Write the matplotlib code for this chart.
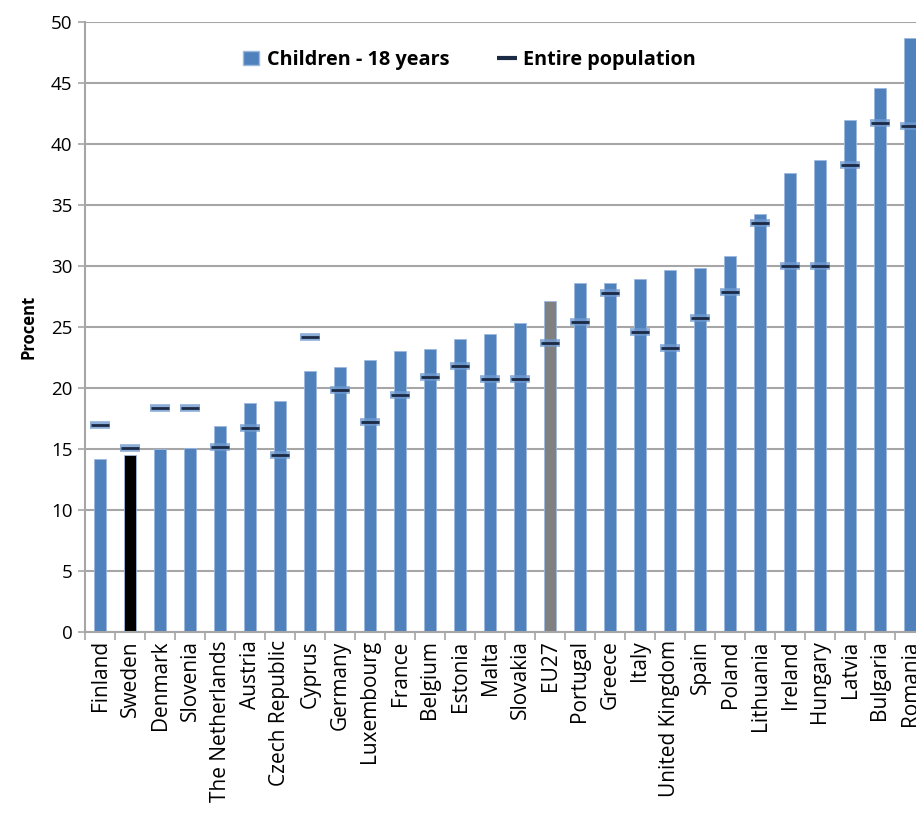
import matplotlib
matplotlib.use("Agg")
import matplotlib.pyplot as plt
from matplotlib.lines import Line2D
from matplotlib.patches import Patch
import numpy as np

countries = ["Finland", "Sweden", "Denmark", "Slovenia", "The Netherlands", "Austria",
             "Czech Republic", "Cyprus", "Germany", "Luxembourg", "France", "Belgium",
             "Estonia", "Malta", "Slovakia", "EU27", "Portugal", "Greece", "Italy",
             "United Kingdom", "Spain", "Poland", "Lithuania", "Ireland", "Hungary",
             "Latvia", "Bulgaria", "Romania"]
children = [14.2, 14.5, 15.0, 15.1, 16.9, 18.8, 18.9, 21.4, 21.7, 22.3, 23.0, 23.2,
            24.0, 24.4, 25.3, 27.1, 28.6, 28.6, 28.9, 29.7, 29.8, 30.8, 34.3, 37.6,
            38.7, 42.0, 44.6, 48.7]
entire = [17.0, 15.1, 18.4, 18.4, 15.2, 16.7, 14.5, 24.2, 19.8, 17.2, 19.4, 20.9,
          21.8, 20.7, 20.7, 23.7, 25.4, 27.8, 24.6, 23.3, 25.7, 27.9, 33.5, 30.0,
          30.0, 38.3, 41.7, 41.5]
yticks = [0, 5, 10, 15, 20, 25, 30, 35, 40, 45, 50]

BLUE = "#4F81BD"
bar_colors = [BLUE] * len(countries)
bar_colors[countries.index("Sweden")] = "black"
bar_colors[countries.index("EU27")] = "#808080"

plt.rcParams['font.family'] = ['Open Sans', 'DejaVu Sans']

W, H = 916, 814
fig = plt.figure(figsize=(W / 100, H / 100), dpi=100)
left, right, bottom, top = 85, 925, 632, 22
ax = fig.add_axes([left / W, (H - bottom) / H, (right - left) / W, (bottom - top) / H])

x = np.arange(len(countries))
ax.bar(x, children, width=0.4, color=bar_colors, edgecolor="#9DB9DE", linewidth=0.6, zorder=2)

# entire population markers (glow + dark dash)
ax.plot(x, entire, linestyle="none", marker="_", markersize=15, markeredgewidth=5.5,
        color="#6F9AD0", alpha=0.8, zorder=3)
ax.plot(x, entire, linestyle="none", marker="_", markersize=13, markeredgewidth=2,
        color="#1B2A45", zorder=4)

ax.set_xlim(-0.5, len(countries) - 0.5)
ax.set_ylim(0, 50)
ax.set_yticks(yticks)
ax.yaxis.grid(True, color="#A6A6A6", linewidth=1.5, zorder=0)
ax.set_axisbelow(True)

for s in ["top", "right"]:
    ax.spines[s].set_visible(False)
ax.spines["left"].set_color("#A6A6A6")
ax.spines["left"].set_linewidth(1.5)
ax.spines["bottom"].set_color("#A6A6A6")
ax.spines["bottom"].set_linewidth(1.5)

ax.tick_params(axis="y", length=5, color="#A6A6A6", width=1.2, labelsize=13.5, pad=4)
ax.set_xticks(x)
ax.set_xticklabels(countries, rotation=90, fontsize=15)
ax.tick_params(axis="x", length=0, pad=6)
ax.set_xticks(np.arange(-0.5, len(countries), 1), minor=True)
ax.tick_params(axis="x", which="minor", length=6, color="#A6A6A6", width=1.2)

ax.set_ylabel("Procent", fontsize=12, fontweight="bold", labelpad=10)

handles = [Patch(facecolor=BLUE, edgecolor="#9DB9DE"),
           Line2D([0], [0], linestyle="none", marker="_", markersize=14,
                  markeredgewidth=3, color="#1B2A45")]
ax.legend(handles, ["Children - 18 years", "Entire population"], loc="center",
          bbox_to_anchor=(0.458, 0.938), ncol=2, frameon=False, columnspacing=2.5,
          handlelength=0.8, handletextpad=0.4,
          prop={"family": ["Open Sans", "DejaVu Sans"], "weight": "bold", "size": 14.3})

fig.savefig("out.png", dpi=100)
